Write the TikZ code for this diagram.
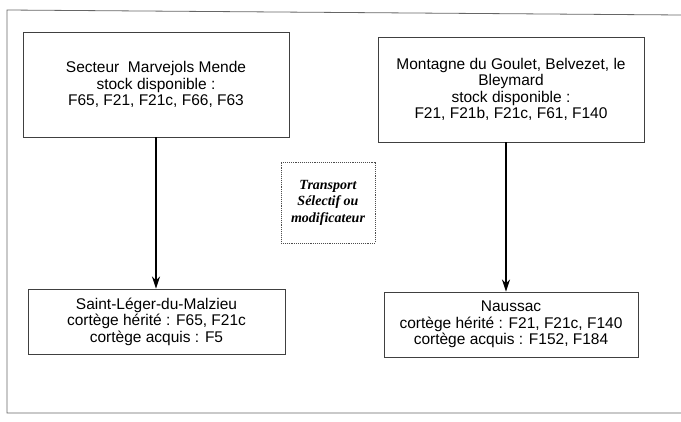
\documentclass[tikz,border=0pt]{standalone}
\usepackage{fontspec}
\setmainfont{Liberation Sans}
\newfontfamily\timesfont{Liberation Serif}
\usetikzlibrary{arrows.meta}

\begin{document}
\begin{tikzpicture}[x=1pt,y=-1pt,
  site/.style={draw=black!75,line width=0.9pt,align=center,inner sep=0pt,
    font=\fontsize{15.5}{16.5}\selectfont},
  link/.style={line width=1.4pt,-{Stealth[length=12pt,width=8pt]}},
  note/.style={draw=black!70,densely dotted,line width=0.9pt,align=center,inner sep=0pt,
    font=\timesfont\bfseries\itshape\fontsize{14}{16.5}\selectfont}]
  \useasboundingbox (0,0) rectangle (681,422);

  % Outer frame
  \draw[black!60,line width=0.8pt] (681,15) -- (7,10) -- (7,413) -- (681,413);

  % Source areas
  \node[site,minimum width=266pt,minimum height=105pt] (marvejols) at (156,84.5)
    {Secteur\ \ Marvejols Mende\\stock disponible :\\F65, F21, F21c, F66, F63};
  \node[site,minimum width=266pt,minimum height=105pt] (goulet) at (511,89.5)
    {Montagne du Goulet, Belvezet, le\\Bleymard\\stock disponible :\\F21, F21b, F21c, F61, F140};

  % Receiving sites
  \node[site,minimum width=257pt,minimum height=65pt] (malzieu) at (156.5,321.5)
    {Saint-Léger-du-Malzieu\\cortège hérité : F65, F21c\\cortège acquis : F5};
  \node[site,minimum width=254pt,minimum height=65pt] (naussac) at (511,324.5)
    {Naussac\\cortège hérité : F21, F21c, F140\\cortège acquis : F152, F184};

  % Transport label
  \node[note,minimum width=94pt,minimum height=81pt] (transport) at (328,202.5)
    {Transport\\Sélectif ou\\modificateur};

  % Arrows
  \draw[link] (marvejols.south) -- (marvejols.south |- malzieu.north);
  \draw[link] ([xshift=-5pt]goulet.south) -- ([xshift=-5pt]goulet.south |- naussac.north);
\end{tikzpicture}
\end{document}
